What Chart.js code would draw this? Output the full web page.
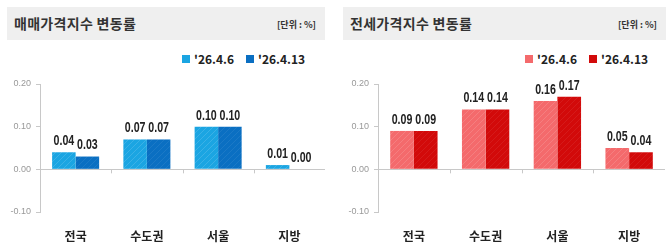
<!DOCTYPE html>
<html>
<head>
<meta charset="utf-8">
<script src="https://cdn.jsdelivr.net/npm/chart.js@4.4.1/dist/chart.umd.min.js"></script>
<style>
    body { margin: 0; background: #fff; width: 670px; height: 248px; position: relative; overflow: hidden; font-family: "Noto Sans CJK KR", "Noto Sans", sans-serif; }
    .head { position: absolute; top: 7px; height: 33px; background: #efefef; }
    .head .title { position: absolute; left: 7px; top: 6px; font-size: 14px; font-weight: bold; color: #333; letter-spacing: 0.3px; }
    .head .unit { position: absolute; right: 9px; top: 11px; font-size: 9px; font-weight: bold; color: #333; }
    .legend { position: absolute; top: 50px; font-size: 12px; font-weight: bold; color: #222; white-space: nowrap; }
    .legend span.box { display: inline-block; width: 8px; height: 8px; margin-right: 4px; vertical-align: 1px; }
    .legend span.item { margin-left: 12px; }
    .wrap { position: absolute; top: 70px; width: 335px; height: 178px; }
</style>
</head>
<body>
<div class="head" style="left:7px; width:318px;"><div class="title">매매가격지수 변동률</div><div class="unit">[단위 : %]</div></div>
<div class="head" style="left:343px; width:323px;"><div class="title">전세가격지수 변동률</div><div class="unit">[단위 : %]</div></div>
<div class="legend" id="legendSale" style="left:170px;"></div>
<div class="legend" id="legendJeonse" style="left:513px;"></div>
<div class="wrap" style="left:0;"><canvas id="saleChart" width="335" height="178"></canvas></div>
<div class="wrap" style="left:335px;"><canvas id="jeonseChart" width="335" height="178"></canvas></div>
<script>
// 데이터
const categories = ['전국', '수도권', '서울', '지방'];
const seriesLabels = ["'26.4.6", "'26.4.13"];
const saleWeek1 = [0.04, 0.07, 0.10, 0.01];
const saleWeek2 = [0.03, 0.07, 0.10, 0.00];
const jeonseWeek1 = [0.09, 0.14, 0.16, 0.05];
const jeonseWeek2 = [0.09, 0.14, 0.17, 0.04];
const yTicks = [-0.10, 0.00, 0.10, 0.20];

const saleColors = ['#1ba5e2', '#0a6fc2'];
const jeonseColors = ['#f46a6c', '#d20a0a'];

// 빗금 패턴
function hatch(base, stripe) {
    const c = document.createElement('canvas');
    c.width = 6; c.height = 6;
    const g = c.getContext('2d');
    g.fillStyle = base;
    g.fillRect(0, 0, 6, 6);
    g.strokeStyle = stripe;
    g.lineWidth = 1;
    g.beginPath();
    g.moveTo(0, 6); g.lineTo(6, 0);
    g.moveTo(-3, 3); g.lineTo(3, -3);
    g.moveTo(3, 9); g.lineTo(9, 3);
    g.stroke();
    return g.createPattern(c, 'repeat');
}

function buildLegend(id, colors) {
    const el = document.getElementById(id);
    el.innerHTML = seriesLabels.map((l, i) =>
        `<span class="item"><span class="box" style="background:${colors[i]}"></span>${l}</span>`).join('');
}

// 값 표시 + 축 눈금
const extras = {
    id: 'extras',
    afterDatasetsDraw(chart) {
        const ctx = chart.ctx;
        const x = chart.scales.x, y = chart.scales.y;
        const zero = y.getPixelForValue(0);
        ctx.save();
        ctx.strokeStyle = '#c8c8c8';
        ctx.lineWidth = 1;
        ctx.beginPath();
        for (let i = 0; i < categories.length - 1; i++) {
            const bx = Math.round((x.getPixelForValue(i) + x.getPixelForValue(i + 1)) / 2) + 0.5;
            ctx.moveTo(bx, zero); ctx.lineTo(bx, zero + 4);
        }
        ctx.stroke();

        ctx.fillStyle = '#222';
        ctx.textAlign = 'center';
        ctx.textBaseline = 'bottom';
        ctx.font = 'bold 14px "Liberation Sans", Arial, sans-serif';
        chart.data.datasets.forEach((ds, di) => {
            chart.getDatasetMeta(di).data.forEach((bar, i) => {
                const v = ds.data[i];
                const top = Math.min(bar.y, zero);
                ctx.save();
                ctx.translate(bar.x, top - 4);
                ctx.scale(0.76, 1);
                ctx.fillText(v.toFixed(2), 0, 0);
                ctx.restore();
            });
        });
        ctx.restore();
    }
};

function makeChart(id, d1, d2, colors, leftW, padRight) {
    const ctx = document.getElementById(id).getContext('2d');
    return new Chart(ctx, {
        type: 'bar',
        data: {
            labels: categories,
            datasets: [
                { label: seriesLabels[0], data: d1, backgroundColor: hatch(colors[0], 'rgba(255,255,255,0.14)') },
                { label: seriesLabels[1], data: d2, backgroundColor: hatch(colors[1], 'rgba(255,255,255,0.07)') }
            ]
        },
        options: {
            responsive: false,
            animation: false,
            events: [],
            layout: { padding: { top: 14, right: padRight, left: 0, bottom: 0 } },
            categoryPercentage: 0.66,
            barPercentage: 1,
            plugins: { legend: { display: false }, tooltip: { enabled: false } },
            scales: {
                x: {
                    grid: { display: false },
                    border: { display: false },
                    ticks: {
                        color: '#222',
                        padding: 9,
                        font: { family: '"Noto Sans CJK KR", sans-serif', size: 12, weight: 'bold' }
                    },
                    afterFit: s => { s.height = 36; }
                },
                y: {
                    min: -0.1,
                    max: 0.2,
                    afterBuildTicks: s => { s.ticks = yTicks.map(v => ({ value: v })); },
                    border: { display: true, color: '#c8c8c8' },
                    grid: {
                        drawTicks: true,
                        tickLength: 4,
                        tickColor: '#c8c8c8',
                        color: c => (c.tick && c.tick.value === 0 ? '#c8c8c8' : 'rgba(0,0,0,0)')
                    },
                    ticks: {
                        color: '#999',
                        padding: 5,
                        font: { family: 'Arial, "Liberation Sans", sans-serif', size: 9 },
                        callback: v => v.toFixed(2)
                    },
                    afterFit: s => { s.width = leftW; }
                }
            }
        },
        plugins: [extras]
    });
}

buildLegend('legendSale', saleColors);
buildLegend('legendJeonse', jeonseColors);
makeChart('saleChart', saleWeek1, saleWeek2, saleColors, 40, 10);
makeChart('jeonseChart', jeonseWeek1, jeonseWeek2, jeonseColors, 43, 5);
</script>
</body>
</html>
